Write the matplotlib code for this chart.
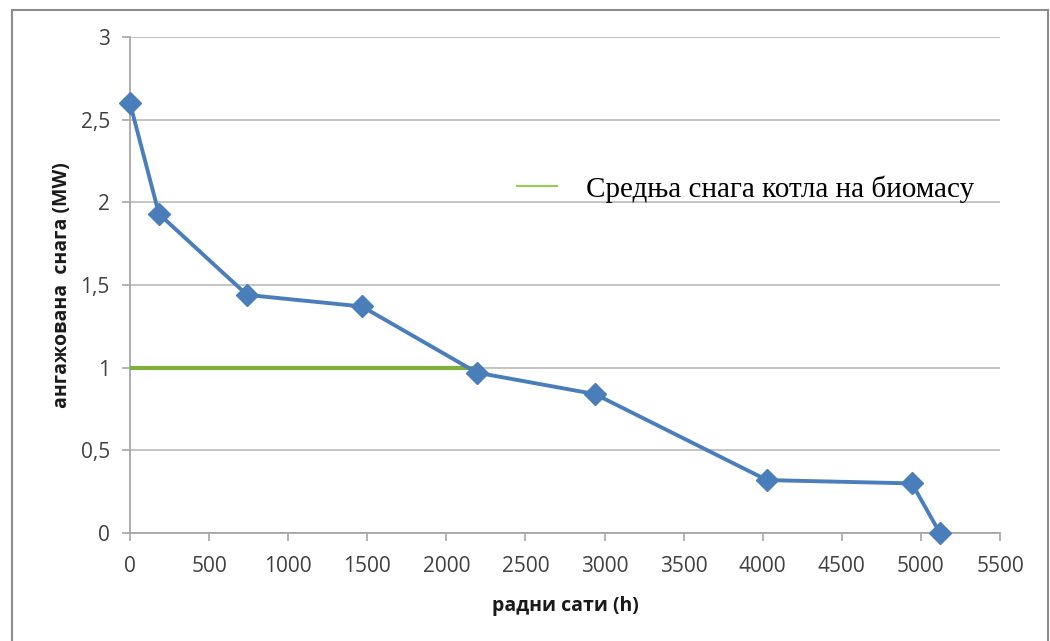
import matplotlib.pyplot as plt
from matplotlib.lines import Line2D
from matplotlib.patches import Rectangle

# радни сати (h) и ангажована снага (MW)
hours = [0, 183, 740, 1467, 2193, 2940, 4027, 4943, 5120]
power = [2.6, 1.93, 1.44, 1.37, 0.97, 0.84, 0.32, 0.30, 0.0]

# средња снага котла на биомасу
avg_hours = [0, 2193]
avg_power = [1.0, 1.0]

x_ticks = [0, 500, 1000, 1500, 2000, 2500, 3000, 3500, 4000, 4500, 5000, 5500]
y_ticks = [0, 0.5, 1, 1.5, 2, 2.5, 3]
y_tick_labels = ['0', '0,5', '1', '1,5', '2', '2,5', '3']

fig = plt.figure(figsize=(10.5, 6.41), dpi=100)
ax = fig.add_axes([130/1050, 1 - 533/641, 870/1050, 496/641])

ax.plot(avg_hours, avg_power, color='#7DB23A', linewidth=3, zorder=3)
ax.plot(hours, power, color='#4A7EBB', linewidth=2.8, marker='D',
        markersize=11, markeredgecolor='#4A7EBB', zorder=4, clip_on=False)

ax.set_xlim(0, 5500)
ax.set_ylim(0, 3)
ax.set_xticks(x_ticks)
ax.set_yticks(y_ticks)
ax.set_yticklabels(y_tick_labels)

ax.grid(axis='y', color='#BFBFBF', linewidth=1.3)
ax.set_axisbelow(True)
for s in ['top', 'right']:
    ax.spines[s].set_visible(False)
for s in ['left', 'bottom']:
    ax.spines[s].set_color('#A6A6A6')
    ax.spines[s].set_linewidth(1.3)
ax.tick_params(axis='both', colors='#A6A6A6', labelcolor='#404040',
               labelsize=15, length=5.5, width=1.2)
ax.tick_params(axis='x', pad=11)
ax.tick_params(axis='y', pad=9)
for lab in ax.get_xticklabels() + ax.get_yticklabels():
    lab.set_family('Open Sans')

ax.set_xlabel('радни сати (h)', fontsize=14, fontweight='bold',
              family='Open Sans', color='#1A1A1A', labelpad=14)
ax.set_ylabel('ангажована  снага (MW)', fontsize=14, fontweight='bold',
              family='Open Sans', color='#1A1A1A', labelpad=6)

handle = Line2D([], [], color='#92D050', linewidth=1.5)
leg = ax.legend([handle], ['Средња снага котла на биомасу'],
                loc='center left', bbox_to_anchor=(0.415, 0.694),
                frameon=False, handlelength=1.35, handletextpad=1.0,
                prop={'family': 'Liberation Serif', 'size': 21})

# рамка око графика
fig.patches.append(Rectangle((12/1050, -0.01), 1036/1050, 1 - 10/641 + 0.01,
                             transform=fig.transFigure, fill=False,
                             edgecolor='#8C8C8C', linewidth=1.5))

fig.savefig('out.png', dpi=100)
